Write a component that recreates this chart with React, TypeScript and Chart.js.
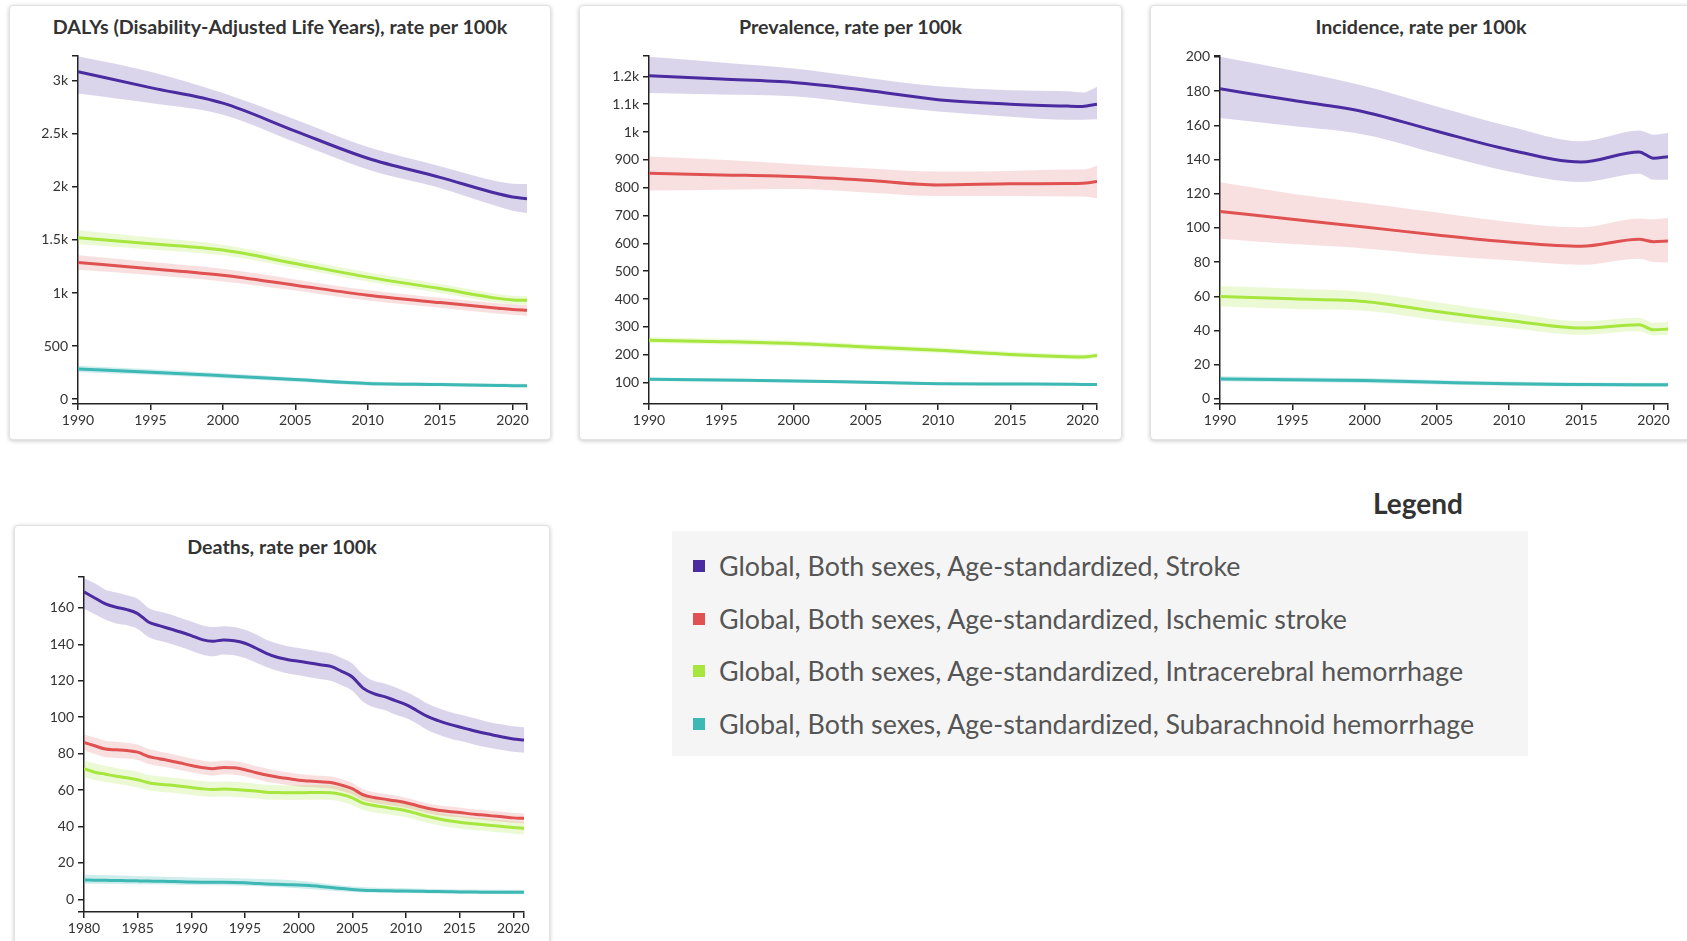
import React, { useEffect, useRef } from "react";
import { Chart, registerables } from "chart.js";
Chart.register(...registerables);

const FONT = "Lato, 'Noto Sans', sans-serif";

// ---- series meta ----
const seriesNames = [
  "Global, Both sexes, Age-standardized, Stroke",
  "Global, Both sexes, Age-standardized, Ischemic stroke",
  "Global, Both sexes, Age-standardized, Intracerebral hemorrhage",
  "Global, Both sexes, Age-standardized, Subarachnoid hemorrhage",
];
const lineColors = ["#4b2ba0", "#e05252", "#a6e63f", "#3db8b5"];
const bandColors = [
  "rgba(75,43,160,0.2)",
  "rgba(224,82,82,0.18)",
  "rgba(166,230,63,0.22)",
  "rgba(61,184,181,0.25)",
];

// ---- x values ----
const yearsMain = [1990, 1995, 2000, 2005, 2010, 2015, 2019, 2020, 2021];
const yearsDeaths = [
  1980, 1981, 1982, 1983, 1984, 1985, 1986, 1987, 1988, 1989,
  1990, 1991, 1992, 1993, 1994, 1995, 1996, 1997, 1998, 1999,
  2000, 2001, 2002, 2003, 2004, 2005, 2006, 2007, 2008, 2009,
  2010, 2011, 2012, 2013, 2014, 2015, 2016, 2017, 2018, 2019, 2020, 2021,
];
const yearsDeathsSAHBand = [1980, 1985, 1990, 1995, 2000, 2005, 2010, 2015, 2021];

// ---- tick values ----
const xTicksMain = [1990, 1995, 2000, 2005, 2010, 2015, 2020];
const xTicksDeaths = [1980, 1985, 1990, 1995, 2000, 2005, 2010, 2015, 2020];
const yTicksDalys = [0, 500, 1000, 1500, 2000, 2500, 3000];
const yTicksPrev = [100, 200, 300, 400, 500, 600, 700, 800, 900, 1000, 1100, 1200];
const yTicksInc = [0, 20, 40, 60, 80, 100, 120, 140, 160, 180, 200];
const yTicksDeaths = [0, 20, 40, 60, 80, 100, 120, 140, 160];

// ---- DALYs ----
const dalysStroke = [3085, 2935, 2789, 2526, 2270, 2090, 1935, 1905, 1888];
const dalysStrokeLo = [2880, 2790, 2680, 2420, 2165, 1990, 1815, 1775, 1755];
const dalysStrokeHi = [3230, 3085, 2885, 2635, 2375, 2195, 2050, 2030, 2027];
const dalysIschemic = [1288, 1230, 1168, 1074, 980, 910, 858, 846, 838];
const dalysIschemicLo = [1220, 1170, 1110, 1025, 930, 862, 806, 795, 785];
const dalysIschemicHi = [1355, 1292, 1228, 1128, 1028, 955, 905, 895, 888];
const dalysICH = [1522, 1465, 1405, 1279, 1150, 1042, 950, 935, 932];
const dalysICHLo = [1460, 1410, 1355, 1235, 1108, 1000, 910, 895, 890];
const dalysICHHi = [1592, 1525, 1455, 1325, 1195, 1085, 990, 975, 972];
const dalysSAH = [284, 255, 221, 185, 148, 138, 130, 128, 126];
const dalysSAHLo = [255, 230, 198, 165, 130, 122, 114, 112, 110];
const dalysSAHHi = [315, 282, 245, 205, 166, 155, 147, 145, 143];

// ---- Prevalence ----
const prevStroke = [1202, 1190, 1178, 1150, 1116, 1100, 1093, 1092, 1100];
const prevStrokeLo = [1140, 1135, 1128, 1100, 1074, 1055, 1044, 1044, 1046];
const prevStrokeHi = [1270, 1250, 1228, 1195, 1164, 1150, 1146, 1142, 1162];
const prevIschemic = [852, 846, 840, 827, 810, 814, 815, 816, 822];
const prevIschemicLo = [790, 793, 795, 783, 770, 770, 768, 768, 762];
const prevIschemicHi = [912, 900, 885, 870, 858, 860, 865, 865, 879];
const prevICH = [252, 247, 240, 228, 216, 201, 193, 192, 197];
const prevICHLo = [242, 237, 230, 218, 206, 192, 184, 183, 187];
const prevICHHi = [263, 257, 250, 238, 226, 211, 203, 202, 207];
const prevSAH = [112, 109, 106, 101, 96, 95, 94, 93, 93];
const prevSAHLo = [106, 103, 100, 96, 91, 90, 89, 88, 88];
const prevSAHHi = [118, 115, 112, 107, 101, 100, 99, 98, 98];

// ---- Incidence ----
const incStroke = [181.3, 174.6, 167.8, 156.5, 145.7, 138.5, 144.4, 140.7, 141.6];
const incStrokeLo = [164.3, 159.5, 154.5, 143.5, 133.0, 126.8, 131.7, 128.2, 128.2];
const incStrokeHi = [200.0, 192.0, 183.0, 171.0, 159.4, 150.6, 156.9, 154.5, 155.5];
const incIschemic = [109.6, 105.0, 100.5, 95.8, 91.7, 89.2, 93.3, 91.9, 92.3];
const incIschemicLo = [93.6, 90.5, 88.0, 84.0, 81.0, 78.4, 82.0, 80.0, 79.8];
const incIschemicHi = [126.6, 120.0, 114.5, 109.0, 103.5, 100.3, 105.5, 105.0, 105.7];
const incICH = [59.9, 58.5, 57.0, 51.1, 45.8, 41.4, 43.3, 40.4, 40.8];
const incICHLo = [54.0, 52.5, 51.5, 46.0, 41.5, 37.5, 39.5, 37.0, 37.5];
const incICHHi = [66.0, 64.5, 62.5, 56.5, 50.5, 45.5, 47.5, 44.5, 45.0];
const incSAH = [11.7, 11.2, 10.7, 9.7, 8.8, 8.4, 8.2, 8.2, 8.2];
const incSAHLo = [10.2, 9.8, 9.3, 8.4, 7.6, 7.2, 7.0, 7.0, 7.0];
const incSAHHi = [13.3, 12.7, 12.2, 11.1, 10.1, 9.6, 9.4, 9.4, 9.4];

// ---- Deaths ----
const deathsStroke = [
  168.8, 165.5, 162.2, 160.4, 159.1, 156.9, 152.3, 150.3, 148.6, 146.8,
  144.8, 142.6, 141.7, 142.4, 142.0, 140.6, 138.0, 135.1, 132.9, 131.6,
  130.7, 129.8, 128.8, 127.9, 125.2, 122.1, 116.0, 112.9, 111.3, 109.1,
  106.9, 103.7, 100.4, 98.1, 96.2, 94.6, 93.1, 91.6, 90.4, 89.1, 88.0, 87.4,
];
const deathsStrokeHi = [
  176.5, 173.5, 170.0, 168.5, 167.0, 165.0, 160.0, 158.0, 156.5, 154.5,
  152.5, 150.5, 149.5, 150.0, 149.5, 148.0, 145.5, 142.5, 140.5, 139.0,
  138.0, 137.0, 136.0, 135.0, 132.5, 129.5, 123.5, 120.0, 118.5, 116.5,
  114.0, 111.0, 107.5, 105.0, 103.0, 101.5, 100.0, 98.5, 97.0, 96.0, 95.0, 94.5,
];
const deathsStrokeLo = [
  159.5, 156.5, 153.5, 151.5, 150.5, 148.5, 144.0, 142.0, 140.5, 138.5,
  136.5, 134.5, 133.5, 134.5, 134.0, 132.5, 130.0, 127.5, 125.5, 124.0,
  123.0, 122.0, 121.0, 120.0, 117.5, 114.5, 108.5, 105.5, 104.0, 101.5,
  99.5, 96.5, 93.0, 90.5, 88.5, 87.0, 85.5, 84.0, 83.0, 82.0, 81.0, 80.5,
];
const deathsIschemic = [
  86.1, 84.3, 82.5, 82.1, 81.7, 80.8, 78.4, 77.2, 76.1, 74.8,
  73.5, 72.4, 71.7, 72.4, 72.2, 71.1, 69.6, 68.2, 67.1, 66.3,
  65.4, 64.9, 64.5, 64.1, 62.7, 60.7, 57.4, 55.9, 55.0, 54.1,
  53.0, 51.5, 50.0, 48.9, 48.2, 47.7, 46.9, 46.4, 45.8, 45.3, 44.7, 44.5,
];
const deathsIschemicHi = [
  90.5, 88.8, 87.0, 86.5, 86.0, 85.0, 82.5, 81.2, 80.0, 78.7,
  77.3, 76.2, 75.5, 76.2, 76.0, 74.8, 73.2, 71.8, 70.6, 69.8,
  68.8, 68.2, 67.8, 67.4, 66.0, 63.8, 60.4, 58.8, 57.9, 57.0,
  55.8, 54.3, 52.8, 51.6, 50.9, 50.4, 49.6, 49.1, 48.5, 48.0, 47.4, 47.2,
];
const deathsIschemicLo = [
  81.5, 79.8, 78.0, 77.6, 77.3, 76.5, 74.3, 73.2, 72.2, 70.9,
  69.7, 68.6, 67.9, 68.6, 68.4, 67.4, 66.0, 64.6, 63.6, 62.8,
  62.0, 61.6, 61.2, 60.8, 59.4, 57.6, 54.4, 53.0, 52.1, 51.2,
  50.2, 48.7, 47.3, 46.2, 45.5, 45.0, 44.2, 43.7, 43.1, 42.6, 42.0, 41.8,
];
const deathsICH = [
  71.7, 69.8, 68.7, 67.6, 66.7, 65.6, 64.0, 63.2, 62.7, 62.1,
  61.4, 60.7, 60.3, 60.5, 60.3, 59.9, 59.4, 58.8, 58.6, 58.5,
  58.5, 58.6, 58.6, 58.5, 57.5, 55.7, 52.8, 51.5, 50.6, 49.7,
  48.6, 47.1, 45.5, 44.2, 43.1, 42.3, 41.6, 41.1, 40.5, 40.0, 39.4, 39.0,
];
const deathsICHHi = [
  76.5, 74.5, 73.3, 72.1, 71.1, 70.0, 68.3, 67.5, 66.9, 66.3,
  65.6, 64.9, 64.5, 64.7, 64.5, 64.1, 63.5, 62.9, 62.7, 62.6,
  62.6, 62.7, 62.7, 62.6, 61.5, 59.7, 56.7, 55.4, 54.4, 53.5,
  52.3, 50.8, 49.1, 47.8, 46.7, 45.8, 45.1, 44.6, 44.0, 43.5, 42.9, 42.5,
];
const deathsICHLo = [
  67.2, 65.5, 64.4, 63.4, 62.5, 61.4, 59.9, 59.1, 58.6, 58.0,
  57.3, 56.6, 56.2, 56.4, 56.2, 55.8, 55.3, 54.8, 54.6, 54.5,
  54.5, 54.6, 54.6, 54.5, 53.6, 51.8, 49.0, 47.7, 46.9, 46.0,
  45.0, 43.5, 42.0, 40.7, 39.6, 38.9, 38.2, 37.7, 37.1, 36.6, 36.0, 35.6,
];
const deathsSAH = [
  10.6, 10.5, 10.4, 10.3, 10.2, 10.1, 10.0, 9.9, 9.8, 9.6,
  9.5, 9.4, 9.3, 9.3, 9.2, 9.0, 8.7, 8.4, 8.2, 8.0,
  7.8, 7.5, 7.0, 6.4, 5.9, 5.4, 5.0, 4.8, 4.7, 4.6,
  4.5, 4.4, 4.3, 4.2, 4.1, 4.0, 4.0, 3.9, 3.9, 3.8, 3.8, 3.8,
];
const deathsSAHHi = [13.5, 12.8, 12.0, 11.4, 10.2, 7.0, 6.0, 5.4, 5.1];
const deathsSAHLo = [8.5, 8.2, 7.8, 7.4, 6.0, 4.0, 3.4, 3.0, 2.8];

type Series = { x: number[]; mid: number[]; bx: number[]; lo: number[]; hi: number[] };

type PanelCfg = {
  title: string;
  left: number;
  top: number;
  width: number;
  height: number;
  plotLeft: number;
  plotTop: number;
  plotRight: number;
  plotBottom: number;
  titleY: number;
  xMin: number;
  xMax: number;
  xTicks: number[];
  yMin: number;
  yMax: number;
  yTicks: number[];
  series: Series[];
};

const fmtY = (v: number) => (v >= 1000 ? `${+(v / 1000).toFixed(1)}k` : String(v));

const panels: PanelCfg[] = [
  {
    title: "DALYs (Disability-Adjusted Life Years), rate per 100k",
    left: 9, top: 5, width: 542, height: 435,
    plotLeft: 78, plotTop: 56, plotRight: 527, plotBottom: 404, titleY: 27,
    xMin: 1990, xMax: 2021, xTicks: xTicksMain,
    yMin: -45, yMax: 3233, yTicks: yTicksDalys,
    series: [
      { x: yearsMain, mid: dalysStroke, bx: yearsMain, lo: dalysStrokeLo, hi: dalysStrokeHi },
      { x: yearsMain, mid: dalysIschemic, bx: yearsMain, lo: dalysIschemicLo, hi: dalysIschemicHi },
      { x: yearsMain, mid: dalysICH, bx: yearsMain, lo: dalysICHLo, hi: dalysICHHi },
      { x: yearsMain, mid: dalysSAH, bx: yearsMain, lo: dalysSAHLo, hi: dalysSAHHi },
    ],
  },
  {
    title: "Prevalence, rate per 100k",
    left: 579, top: 5, width: 543, height: 435,
    plotLeft: 649, plotTop: 56, plotRight: 1097, plotBottom: 404, titleY: 27,
    xMin: 1990, xMax: 2021, xTicks: xTicksMain,
    yMin: 23, yMax: 1273, yTicks: yTicksPrev,
    series: [
      { x: yearsMain, mid: prevStroke, bx: yearsMain, lo: prevStrokeLo, hi: prevStrokeHi },
      { x: yearsMain, mid: prevIschemic, bx: yearsMain, lo: prevIschemicLo, hi: prevIschemicHi },
      { x: yearsMain, mid: prevICH, bx: yearsMain, lo: prevICHLo, hi: prevICHHi },
      { x: yearsMain, mid: prevSAH, bx: yearsMain, lo: prevSAHLo, hi: prevSAHHi },
    ],
  },
  {
    title: "Incidence, rate per 100k",
    left: 1150, top: 5, width: 542, height: 435,
    plotLeft: 1220, plotTop: 56, plotRight: 1668, plotBottom: 404, titleY: 27,
    xMin: 1990, xMax: 2021, xTicks: xTicksMain,
    yMin: -3, yMax: 200.5, yTicks: yTicksInc,
    series: [
      { x: yearsMain, mid: incStroke, bx: yearsMain, lo: incStrokeLo, hi: incStrokeHi },
      { x: yearsMain, mid: incIschemic, bx: yearsMain, lo: incIschemicLo, hi: incIschemicHi },
      { x: yearsMain, mid: incICH, bx: yearsMain, lo: incICHLo, hi: incICHHi },
      { x: yearsMain, mid: incSAH, bx: yearsMain, lo: incSAHLo, hi: incSAHHi },
    ],
  },
  {
    title: "Deaths, rate per 100k",
    left: 14, top: 525, width: 536, height: 440,
    plotLeft: 84, plotTop: 577, plotRight: 524, plotBottom: 912, titleY: 547,
    xMin: 1980, xMax: 2021, xTicks: xTicksDeaths,
    yMin: -7, yMax: 177, yTicks: yTicksDeaths,
    series: [
      { x: yearsDeaths, mid: deathsStroke, bx: yearsDeaths, lo: deathsStrokeLo, hi: deathsStrokeHi },
      { x: yearsDeaths, mid: deathsIschemic, bx: yearsDeaths, lo: deathsIschemicLo, hi: deathsIschemicHi },
      { x: yearsDeaths, mid: deathsICH, bx: yearsDeaths, lo: deathsICHLo, hi: deathsICHHi },
      { x: yearsDeaths, mid: deathsSAH, bx: yearsDeathsSAHBand, lo: deathsSAHLo, hi: deathsSAHHi },
    ],
  },
];

const pts = (xs: number[], ys: number[]) => xs.map((x, i) => ({ x, y: ys[i] }));

function buildDatasets(series: Series[]) {
  const bands: any[] = [];
  const lines: any[] = [];
  series.forEach((s, i) => {
    bands.push({
      data: pts(s.bx, s.lo),
      borderWidth: 0,
      pointRadius: 0,
      fill: false,
      order: 2,
    });
    bands.push({
      data: pts(s.bx, s.hi),
      borderWidth: 0,
      pointRadius: 0,
      fill: "-1",
      backgroundColor: bandColors[i],
      order: 2,
    });
  });
  series.forEach((s, i) => {
    lines.push({
      data: pts(s.x, s.mid),
      borderColor: lineColors[i],
      borderWidth: 3,
      pointRadius: 0,
      fill: false,
      order: 1,
    });
  });
  return [...bands, ...lines];
}

function Panel({ cfg }: { cfg: PanelCfg }) {
  const ref = useRef<HTMLCanvasElement | null>(null);
  useEffect(() => {
    if (!ref.current) return;
    const axisColor = "#222";
    const tickFont = { family: FONT, size: 14 };
    const chart = new Chart(ref.current, {
      type: "line",
      data: { datasets: buildDatasets(cfg.series) },
      options: {
        animation: false,
        responsive: false,
        maintainAspectRatio: false,
        devicePixelRatio: 1,
        layout: {
          padding: {
            left: 0,
            top: cfg.plotTop - cfg.top,
            right: cfg.left + cfg.width - cfg.plotRight,
            bottom: 0,
          },
        },
        elements: { line: { cubicInterpolationMode: "monotone" }, point: { radius: 0 } },
        plugins: {
          legend: { display: false },
          tooltip: { enabled: false },
          title: { display: false },
          filler: { drawTime: "beforeDatasetsDraw" },
        } as any,
        scales: {
          x: {
            type: "linear",
            min: cfg.xMin,
            max: cfg.xMax,
            afterBuildTicks: (s: any) => {
              s.ticks = [...cfg.xTicks, cfg.xMax].map((v) => ({ value: v }));
            },
            afterFit: (s: any) => {
              s.height = cfg.top + cfg.height - cfg.plotBottom;
            },
            ticks: {
              autoSkip: false,
              maxRotation: 0,
              padding: 2,
              color: "#333",
              font: tickFont,
              callback: (v: any) => (cfg.xTicks.includes(Number(v)) ? String(v) : ""),
            },
            grid: { drawOnChartArea: false, drawTicks: true, tickLength: 6, color: axisColor, tickColor: axisColor, lineWidth: 1.5 },
            border: { display: true, color: axisColor, width: 1.5 },
          },
          y: {
            type: "linear",
            min: cfg.yMin,
            max: cfg.yMax,
            afterBuildTicks: (s: any) => {
              s.ticks = [cfg.yMin, ...cfg.yTicks, cfg.yMax].map((v) => ({ value: v }));
            },
            afterFit: (s: any) => {
              s.width = cfg.plotLeft - cfg.left;
            },
            ticks: {
              autoSkip: false,
              padding: 4,
              color: "#333",
              font: tickFont,
              callback: (v: any) => (cfg.yTicks.includes(Number(v)) ? fmtY(Number(v)) : ""),
            },
            grid: { drawOnChartArea: false, drawTicks: true, tickLength: 6, color: axisColor, tickColor: axisColor, lineWidth: 1.5 },
            border: { display: true, color: axisColor, width: 1.5 },
          },
        },
      } as any,
    });
    return () => chart.destroy();
  }, [cfg]);

  return (
    <>
      <div
        style={{
          position: "absolute",
          left: cfg.left,
          top: cfg.top,
          width: cfg.width,
          height: cfg.height,
          boxSizing: "border-box",
          border: "1px solid #e3e3e3",
          borderRadius: 4,
          boxShadow: "0 1px 4px rgba(0,0,0,0.22)",
          background: "#fff",
        }}
      />
      <div
        style={{
          position: "absolute",
          left: cfg.left,
          width: cfg.width,
          top: cfg.titleY - 12,
          height: 24,
          lineHeight: "24px",
          textAlign: "center",
          fontFamily: FONT,
          fontWeight: 700,
          fontSize: 19.7,
          color: "#333",
          whiteSpace: "nowrap",
        }}
      >
        {cfg.title}
      </div>
      <canvas
        ref={ref}
        width={cfg.width}
        height={cfg.height}
        style={{ position: "absolute", left: cfg.left, top: cfg.top, width: cfg.width, height: cfg.height }}
      />
    </>
  );
}

function Legend() {
  return (
    <>
      <div
        style={{
          position: "absolute",
          left: 1318,
          width: 200,
          top: 486,
          lineHeight: "34px",
          textAlign: "center",
          fontFamily: FONT,
          fontWeight: 700,
          fontSize: 28,
          color: "#333",
        }}
      >
        Legend
      </div>
      <div
        style={{
          position: "absolute",
          left: 672,
          top: 531,
          width: 856,
          height: 225,
          background: "#f5f5f5",
        }}
      >
        {seriesNames.map((name, i) => (
          <div
            key={name}
            style={{
              position: "absolute",
              left: 0,
              top: 35 + i * 52.7 - 18,
              height: 36,
              display: "flex",
              alignItems: "center",
            }}
          >
            <div style={{ marginLeft: 21, width: 12, height: 12, background: lineColors[i] }} />
            <div
              style={{
                marginLeft: 14,
                fontFamily: FONT,
                fontSize: 26.8,
                color: "#555",
                whiteSpace: "nowrap",
              }}
            >
              {name}
            </div>
          </div>
        ))}
      </div>
    </>
  );
}

export default function App() {
  return (
    <div
      style={{
        position: "absolute",
        left: 0,
        top: 0,
        width: 1687,
        height: 941,
        overflow: "hidden",
        background: "#fff",
      }}
    >
      {panels.map((p) => (
        <Panel key={p.title} cfg={p} />
      ))}
      <Legend />
    </div>
  );
}
